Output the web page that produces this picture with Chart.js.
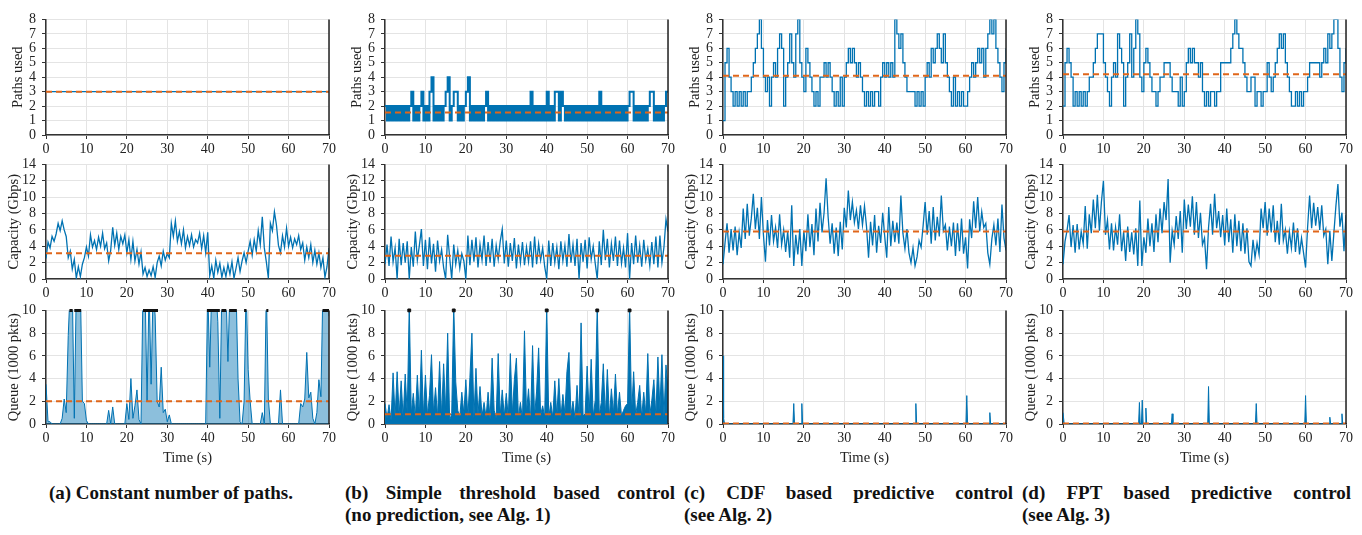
<!DOCTYPE html>
<html>
<head>
<meta charset="utf-8">
<script src="https://cdn.jsdelivr.net/npm/chart.js@4.4.0/dist/chart.umd.min.js"></script>
<style>
  body { margin:0; background:#fff; width:1362px; height:535px; position:relative; overflow:hidden; font-family:'Liberation Serif', serif; }
  canvas { position:absolute; }
  .cap { position:absolute; font-weight:bold; font-size:19px; line-height:22px; color:#111; white-space:nowrap; }
  .just { text-align:justify; text-align-last:justify; }
</style>
</head>
<body>
<div class="cap" style="left:6px;top:482px;width:330px;text-align:center">(a) Constant number of paths.</div>
<div class="cap just" style="left:345px;top:482px;width:330px">(b) Simple threshold based control</div>
<div class="cap" style="left:345px;top:504px">(no prediction, see Alg. 1)</div>
<div class="cap just" style="left:684px;top:482px;width:329px">(c) CDF based predictive control</div>
<div class="cap" style="left:684px;top:504px">(see Alg. 2)</div>
<div class="cap just" style="left:1022px;top:482px;width:329px">(d) FPT based predictive control</div>
<div class="cap" style="left:1022px;top:504px">(see Alg. 3)</div>
<script>
// tick labels
const timeTicks = [0, 10, 20, 30, 40, 50, 60, 70];
const pathTicks = [0, 1, 2, 3, 4, 5, 6, 7, 8];
const capTicks = [0, 2, 4, 6, 8, 10, 12, 14];
const queueTicks = [0, 2, 4, 6, 8, 10];

// (a) constant number of paths  -- series sampled evenly over 0..70 s
const pathsA = [3, 3];
const capA = [2.5,4.5,3.8,5.2,4.6,5.5,6.8,5.9,7.1,6.0,
  5.2,2.6,3.4,1.2,2.4,0.1,1.5,0.3,1.8,2.6,
  3.9,2.8,5.4,3.9,4.7,3.6,5.1,4.0,5.6,3.7,
  4.4,2.2,3.5,6.3,4.1,5.6,3.6,5.2,4.3,5.4,
  3.2,4.8,2.4,4.6,2.2,3.6,1.8,3.3,0.6,1.4,
  0.3,1.1,0.4,1.5,0.2,2.0,2.8,1.6,3.4,2.3,
  3.1,2.6,6.8,5.2,7.1,4.6,5.8,4.3,6.0,3.8,
  5.2,4.1,5.4,3.9,4.8,4.4,5.6,3.7,5.3,3.2,
  5.7,0.4,1.6,0.1,2.3,0.8,1.9,0.2,1.4,0.3,
  1.8,0.6,2.1,0.1,1.3,2.6,0.9,2.2,3.2,2.0,
  3.4,4.6,2.9,4.8,3.4,5.9,4.2,7.6,3.8,2.1,
  0.1,6.8,5.9,8.2,6.6,4.1,3.2,5.3,3.9,6.2,
  4.0,5.1,3.8,4.9,4.2,5.3,3.6,4.4,2.3,3.9,
  2.6,4.2,2.0,3.5,1.8,3.2,1.4,2.6,0.2,1.5,
  3.8];
const queueA = [3.5,0.2,0.2,0,0,0,0,0,0.5,2.2,
  1.0,7.8,12,12,0.5,12,12,12,2.0,1.8,
  0.3,0,0,0,0,0,0,0,0,0,
  0,1.2,0,1.5,0,0,0,0,0,0,
  1.8,0.4,4.0,0.5,1.6,3.0,0.4,0,12,12,
  2.0,12,3.5,12,9.5,2.0,1.5,5.0,1.0,1.3,
  0.2,0.8,0,0,0,0,0,0,0,0,
  0,0,0,0,0,0,0,0,0,0,
  12,5.0,12,12,12,9.0,0.5,12,12,12,
  5.5,12,12,12,12,4.0,0.2,0,2.0,12,
  4.8,2.0,0,0,0,0,0,1.0,0,12,
  2.2,0,0,0,0,0,3.0,0,0,0,
  0,0,0,0,0,0,1.8,1.5,2.2,6.3,
  2.3,2.8,0.5,0,1.0,3.9,2.4,12,12,12,
  9.5];
const overA = [[5.8,6.6],[7.0,8.7],[24,27.7],[39.8,43],[43.4,44.6],[45.3,47.2],[49,49.6],[54.5,55],[68.4,70]];

// (b) simple threshold
const pathsB = [2,1,2,1,2,1,2,1,2,1,
  2,1,2,3,1,2,1,2,3,1,
  2,1,3,4,1,2,1,2,1,2,
  3,4,1,2,3,3,1,2,1,2,
  3,4,1,2,1,2,1,2,1,2,
  3,1,2,1,2,1,2,1,2,1,
  2,1,2,1,2,1,2,1,2,1,
  2,1,3,1,2,1,2,1,2,1,
  3,1,2,1,3,3,1,3,2,1,
  2,1,2,1,2,1,2,1,2,1,
  2,1,2,1,2,1,3,1,2,1,
  2,1,2,1,2,1,2,1,2,1,
  2,3,3,1,2,1,2,1,2,1,
  2,3,3,1,2,1,2,1,2,3,
  3];
const capB = [1.8,4.2,1.6,5.2,2.1,3.8,0.0,4.9,1.7,4.4,
  2.0,4.6,0.0,3.9,1.5,5.8,2.3,4.1,6.1,1.6,
  4.8,1.2,5.1,1.9,4.3,0.9,4.7,2.2,3.6,1.4,
  0.0,5.4,2.6,0.0,4.2,1.8,3.5,1.3,3.1,2.2,
  0.0,5.3,1.7,4.8,2.1,5.1,1.4,4.2,2.3,5.3,
  1.6,4.5,2.0,4.9,1.5,4.1,2.4,4.6,6.1,1.9,
  4.7,1.5,4.4,2.2,5.0,1.3,4.2,2.0,4.5,1.7,
  3.9,2.1,4.6,1.4,5.2,1.8,4.3,2.3,3.8,1.5,
  0.0,4.7,1.6,4.4,2.0,3.9,1.2,4.6,2.2,4.1,
  1.5,5.5,2.0,4.2,1.6,4.9,0.0,4.4,2.1,4.8,
  1.3,5.1,2.4,4.0,1.9,0.0,4.6,1.7,6.0,2.3,
  4.9,1.4,4.3,2.2,5.2,1.6,4.7,1.9,3.8,1.4,
  5.6,0.0,4.4,1.8,5.3,2.0,4.1,1.5,4.8,2.3,
  3.7,1.6,4.5,1.8,5.2,1.4,5.3,2.0,3.9,7.3,
  5.8];
const queueB = [1.8,0.5,1.7,0.3,4.5,0.6,4.6,0.8,3.8,0.5,
  4.4,0.9,10.5,0.9,2.7,0.6,4.3,0.8,6.5,0.7,
  4.3,0.8,2.5,6.1,1.0,3.2,0.6,5.5,0.7,5.3,
  1.1,8.0,0.3,0.9,10.5,3.7,1.2,0.6,2.8,0.9,
  3.9,0.6,4.1,8.0,0.5,4.9,0.8,3.3,0.7,1.9,
  0.6,2.8,0.4,5.8,1.2,0.5,6.2,0.8,3.0,0.7,
  2.7,0.5,6.2,0.9,3.9,5.8,0.6,1.9,0.4,8.2,
  1.0,3.1,0.3,6.9,0.7,2.9,6.7,0.8,1.6,0.6,
  10.5,0.5,1.9,0.6,3.8,0.7,4.0,0.5,2.6,0.9,
  4.6,6.3,0.8,2.0,0.5,3.4,0.6,8.9,0.7,0.9,
  5.1,0.8,5.7,0.7,2.1,10.5,0.8,1.9,5.3,0.7,
  4.8,0.6,3.1,0.9,4.4,0.8,2.8,0.7,1.2,1.6,
  1.8,10.5,0.9,4.6,0.8,1.9,3.4,0.6,2.8,0.9,
  6.2,0.8,2.1,3.9,0.7,5.9,1.3,6.1,0.6,5.2,
  3.0];
const overB = [6, 17, 40, 52.5, 60.5];

// (c) CDF based predictive
const pathsC = [1,5,6,4,3,2,3,2,3,2,
  3,2,3,3,4,5,6,7,8,6,
  4,3,4,2,4,5,4,6,7,6,
  2,4,5,7,5,4,7,8,5,4,
  3,6,5,4,3,2,3,2,4,4,
  5,4,5,4,3,2,3,2,4,2,
  4,5,6,5,6,5,4,5,4,3,
  2,3,2,3,2,3,3,2,4,5,
  4,5,4,5,4,8,7,6,7,5,
  4,3,3,3,3,2,3,2,3,2,
  4,5,4,6,5,6,7,6,5,7,
  5,4,3,2,4,2,3,2,3,2,
  2,3,4,5,4,5,6,5,6,4,
  6,7,8,7,8,6,5,4,3,5,
  6];
const capC = [1.8,4.4,6.8,3.2,6.1,3.5,6.4,2.9,5.7,3.8,
  8.6,4.9,9.2,5.3,7.4,10.4,6.1,8.7,4.9,10.0,
  5.4,2.1,7.2,4.1,7.8,4.6,6.3,3.8,7.9,4.2,
  6.0,3.3,5.8,2.6,9.0,1.6,5.4,3.0,6.1,1.6,
  5.9,3.4,7.9,3.9,6.7,2.9,8.6,4.6,9.3,5.7,
  8.1,12.3,7.6,4.3,6.8,3.1,6.3,2.8,7.0,3.6,
  8.7,6.3,10.8,7.2,9.4,6.9,8.4,6.1,9.0,6.6,
  8.9,6.4,2.6,7.0,4.1,7.8,3.2,6.5,4.4,8.1,
  5.2,2.6,8.8,4.0,7.1,4.5,6.9,4.3,10.2,5.6,
  3.7,6.1,3.2,2.0,3.8,1.6,2.7,4.7,3.9,6.5,
  9.4,5.4,8.3,4.3,8.8,4.7,7.6,5.2,10.2,5.9,
  6.6,3.5,6.4,4.0,6.9,2.8,6.8,3.4,7.4,3.1,
  5.1,1.3,7.3,5.0,9.5,6.2,10.0,5.8,8.2,6.3,
  6.8,3.2,1.8,4.9,6.6,4.1,7.4,3.3,9.1,5.0,
  3.5];
const queueCT = [0, 0.15, 0.4, 17.3, 17.5, 17.7, 19.3, 19.5, 19.7, 47.5, 47.7, 47.9, 60.1, 60.3, 60.5, 65.8, 66.0, 66.2, 70];
const queueC  = [6, 0.5, 0,    0,    1.8,  0,    0,    1.8,  0,    0,    1.8,  0,    0,    2.5,  0,    0,    1.0,  0,    0];

// (d) FPT based predictive
const pathsD = [2,5,6,5,4,2,3,2,3,2,
  3,2,3,4,4,5,6,7,7,7,
  5,4,3,2,4,5,4,7,6,5,
  2,4,5,7,4,6,8,7,4,3,
  5,6,5,4,3,3,2,3,4,4,
  5,5,5,4,3,3,3,2,4,2,
  3,5,6,5,6,5,5,4,5,3,
  2,3,2,3,3,2,3,3,5,5,
  5,5,5,6,7,8,7,6,6,5,
  4,3,3,4,4,2,3,3,2,3,
  3,5,4,3,4,5,6,7,6,7,
  5,4,3,2,2,3,2,3,2,3,
  3,4,5,5,5,5,5,4,5,6,
  5,7,6,7,8,8,6,4,3,5,
  6];
const capD = [1.8,4.6,5.9,7.8,3.9,6.6,3.2,6.7,3.6,5.8,
  4.3,8.9,3.7,7.9,5.6,9.7,6.2,10.3,5.9,9.4,
  12.0,5.4,7.2,3.6,6.8,3.5,6.3,4.2,7.9,3.4,
  5.8,2.2,6.4,3.3,5.7,3.0,6.2,1.6,9.6,1.6,
  5.1,3.2,7.4,4.0,6.8,3.3,7.9,4.5,8.6,5.6,
  9.4,7.2,12.2,2.0,5.9,4.2,7.7,4.9,8.3,3.2,
  9.7,6.1,9.1,6.4,10.1,5.4,9.4,5.0,8.1,4.2,
  5.0,1.2,6.3,9.2,5.4,10.4,6.2,8.3,5.1,7.8,
  4.1,8.6,4.5,7.3,3.2,7.9,4.0,7.1,3.4,6.8,
  3.1,6.2,2.1,1.6,4.8,2.6,4.4,3.0,8.6,6.2,
  9.4,5.3,8.6,5.7,9.0,4.5,7.1,4.2,9.2,4.7,
  6.0,3.1,5.8,3.8,6.9,3.3,6.2,3.0,5.0,3.2,
  1.4,6.3,10.2,6.2,9.3,6.5,8.8,6.0,9.0,5.3,
  6.1,1.8,5.9,2.2,5.6,8.9,11.6,6.4,8.1,3.4,
  7.8];
const queueDT = [0, 0.3, 18.7, 18.9, 19.1, 19.4, 19.6, 19.8, 20.3, 20.5, 20.7, 26.8, 27.0, 27.2, 35.8, 36.0, 36.2, 47.6, 47.8, 48.0, 59.8, 60.0, 60.2, 65.8, 66.0, 66.2, 68.8, 69.0, 69.2, 70];
const queueD  = [1.0, 0, 0,   1.9,  0,    0,    2.1,  0,    0,    1.4,  0,    0,    0.9,  0,    0,    3.3,  0,    0,    1.8,  0,    0,    2.5,  0,    0,    0.6,  0,    0,    0.9,  0,    0];

// averages (dashed lines)
const meanPaths = [3.0, 1.55, 4.1, 4.2];
const meanCap = [3.15, 2.85, 5.8, 5.8];
const meanQueue = [2.0, 0.85, 0.05, 0.05];

const blue = '#0072b2', orange = '#e0661a', ink = '#222';
Chart.defaults.font.family = "'Liberation Serif', 'DejaVu Serif', serif";
Chart.defaults.color = ink;

function pts(vals, times) {
  const dt = 70 / (vals.length - 1);
  return vals.map((v, i) => ({ x: times ? times[i] : i * dt, y: v }));
}

const frame = {
  id: 'frame',
  afterDatasetsDraw(c) {
    const { ctx, chartArea: a } = c;
    ctx.save();
    ctx.strokeStyle = ink;
    ctx.lineWidth = 1.5;
    ctx.beginPath();
    ctx.moveTo(a.right, a.top);
    ctx.lineTo(a.right, a.bottom);
    ctx.stroke();
    ctx.restore();
  }
};

const cols = [
  { x: 46,   paths: pathsA, cap: capA, queue: queueA, qt: null },
  { x: 385,  paths: pathsB, cap: capB, queue: queueB, qt: null },
  { x: 723,  paths: pathsC, cap: capC, queue: queueC, qt: queueCT },
  { x: 1063, paths: pathsD, cap: capD, queue: queueD, qt: queueDT }
];
const rows = [
  { top: 13,  h: 122, xh: 22, max: 8,  ticks: pathTicks,  title: 'Paths used',        tpad: 9 },
  { top: 158, h: 121, xh: 22, max: 14, ticks: capTicks,   title: 'Capacity (Gbps)',   tpad: 5 },
  { top: 304, h: 120, xh: 46, max: 10, ticks: queueTicks, title: 'Queue (1000 pkts)', tpad: 5 }
];
const plotW = 283, yw = 46, padT = 8, padR = 10;

cols.forEach((col, ci) => {
  rows.forEach((row, ri) => {
    const cv = document.createElement('canvas');
    const w = yw + plotW + padR, h = padT + row.h + row.xh;
    cv.width = w; cv.height = h;
    cv.style.left = (col.x - yw) + 'px';
    cv.style.top = (row.top - padT) + 'px';
    document.body.appendChild(cv);

    const mean = [meanPaths, meanCap, meanQueue][ri][ci];
    const ds = [{
      data: [{ x: 0, y: mean }, { x: 70, y: mean }],
      borderColor: orange, borderWidth: 2, borderDash: [6, 4]
    }];
    if (ri === 2 && ci === 0) {
      ds.push({
        data: overA.flatMap(([s, e]) => [{ x: s, y: 10 }, { x: e, y: 10 }, { x: e, y: null }]),
        borderColor: '#111', borderWidth: 3, spanGaps: false, clip: 6
      });
    }
    if (ri === 2 && ci === 1) {
      ds.push({
        data: overB.map(t => ({ x: t, y: 10 })),
        showLine: false, pointRadius: 2, pointStyle: 'rect',
        pointBackgroundColor: '#111', pointBorderColor: '#111', clip: 6
      });
    }
    if (ri === 0) {
      ds.push({ data: pts(col.paths), borderColor: blue, borderWidth: ci === 1 ? 2 : 1.3, stepped: true });
    } else if (ri === 1) {
      ds.push({ data: pts(col.cap), borderColor: blue, borderWidth: 1.3 });
    } else {
      ds.push({ data: pts(col.queue, col.qt), borderColor: blue, borderWidth: 1,
        fill: 'origin', backgroundColor: ci === 0 ? 'rgba(0,114,178,0.45)' : blue });
    }

    new Chart(cv, {
      type: 'line',
      data: { datasets: ds },
      plugins: [frame],
      options: {
        responsive: false, animation: false, devicePixelRatio: 1,
        layout: { padding: { top: padT, right: padR, left: 0, bottom: 0 } },
        plugins: { legend: { display: false }, tooltip: { enabled: false } },
        elements: { point: { radius: 0 }, line: { tension: 0 } },
        scales: {
          x: {
            type: 'linear', min: 0, max: 70,
            afterBuildTicks: s => { s.ticks = timeTicks.map(v => ({ value: v })); },
            afterFit: s => { s.height = row.xh; },
            grid: { color: '#e4e4e4', tickColor: '#333', tickLength: 4 },
            border: { color: '#333', width: 1.5 },
            ticks: { padding: 2, autoSkip: false, maxRotation: 0, font: { size: 14 } },
            title: ri === 2
              ? { display: true, text: 'Time (s)', font: { size: 14.5 }, padding: { top: 0, bottom: 3 } }
              : { display: false }
          },
          y: {
            min: 0, max: row.max,
            afterBuildTicks: s => { s.ticks = row.ticks.map(v => ({ value: v })); },
            afterFit: s => { s.width = yw; },
            grid: { color: '#e4e4e4', tickColor: '#333', tickLength: 4 },
            border: { color: '#333', width: 1.5 },
            ticks: { padding: 6, autoSkip: false, font: { size: 14 } },
            title: { display: true, text: row.title, font: { size: 14.5 }, padding: { top: row.tpad, bottom: 0 } }
          }
        }
      }
    });
  });
});
</script>
</body>
</html>
